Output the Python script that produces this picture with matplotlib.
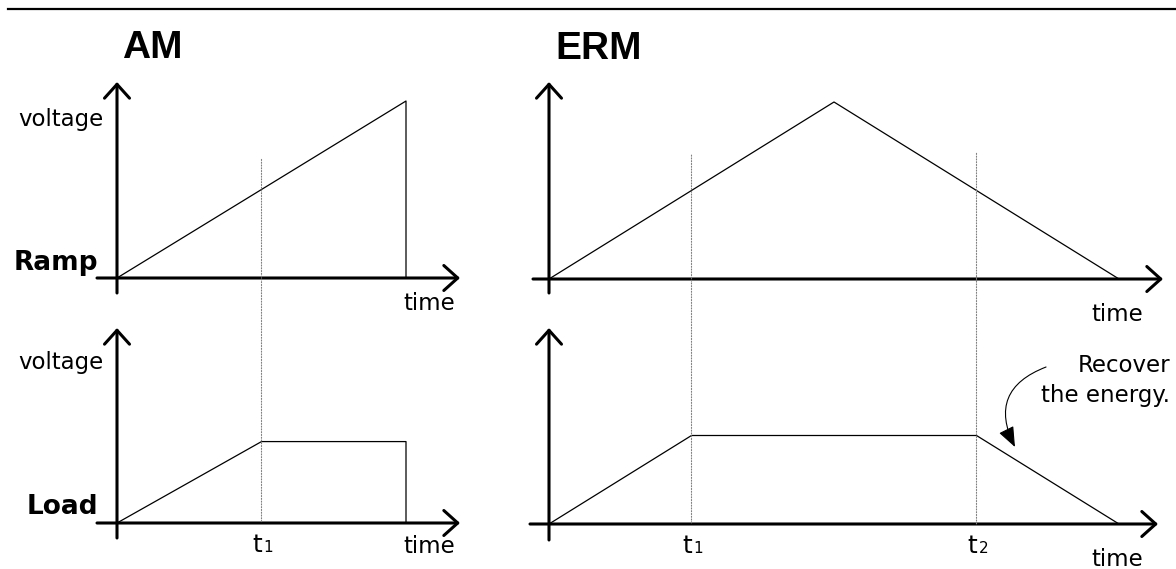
import matplotlib
matplotlib.use("Agg")
import matplotlib.pyplot as plt
from matplotlib.lines import Line2D
from matplotlib.patches import ConnectionPatch

# ---- data (time in units of the AM ramp length, voltage normalised) ----
am_ramp_t = [0, 1, 1]
am_ramp_v = [0, 1, 0]
am_load_t = [0, 0.5, 1, 1]
am_load_v = [0, 0.46, 0.46, 0]
am_marks = [0.5]            # t1

erm_ramp_t = [0, 1, 2]
erm_ramp_v = [0, 1, 0]
erm_load_t = [0, 0.5, 1.5, 2]
erm_load_v = [0, 0.5, 0.5, 0]
erm_marks = [0.5, 1.5]      # t1, t2

W, H = 1176, 569
plt.rcParams['font.family'] = ['DejaVu Sans']

fig = plt.figure(figsize=(W / 100, H / 100), dpi=100)

axis_arrow = dict(arrowstyle='->,head_length=1.0,head_width=0.9', lw=2.2,
                  color='black', mutation_scale=10, shrinkA=0, shrinkB=0)


def panel(box, origin, scale):
    """Axes placed in pixel box, data origin at pixel origin"""
    left, top, right, bottom = box
    ox, oy = origin
    sx, sy = scale
    ax = fig.add_axes([left / W, 1 - bottom / H, (right - left) / W, (bottom - top) / H])
    ax.set_xlim((left - ox) / sx, (right - ox) / sx)
    ax.set_ylim((oy - bottom) / sy, (oy - top) / sy)
    ax.set_axis_off()
    ax.patch.set_alpha(0)
    x0, x1 = ax.get_xlim()
    y0, y1 = ax.get_ylim()
    ax.annotate('', xy=(x1, 0), xytext=(x0, 0), arrowprops=axis_arrow, annotation_clip=False)
    ax.annotate('', xy=(0, y1), xytext=(0, y0), arrowprops=axis_arrow, annotation_clip=False)
    return ax


def ftext(x, y, s, **kw):
    fig.text(x / W, 1 - y / H, s, va='baseline', **kw)


def guides(top_ax, low_ax, marks, tops):
    for i, (tm, yt) in enumerate(zip(marks, tops)):
        con = ConnectionPatch(xyA=(tm, yt), coordsA=top_ax.transData,
                              xyB=(tm, 0), coordsB=low_ax.transData,
                              color='0.5', lw=0.8, linestyle=(0, (1, 1.5)))
        fig.add_artist(con)
        low_ax.annotate('t', xy=(tm, 0), xytext=(1, -29), textcoords='offset pixels',
                        ha='right', va='baseline', fontsize=18, annotation_clip=False)
        low_ax.annotate(str(i + 1), xy=(tm, 0), xytext=(2, -29), textcoords='offset pixels',
                        ha='left', va='baseline', fontsize=11, annotation_clip=False)


line_kw = dict(color='black', lw=0.9, clip_on=False, zorder=3)

# AM panels
am_top = panel((97, 82, 460, 293), (117, 278), (289, 177))
am_low = panel((97, 328, 460, 538), (117, 523), (289, 177))
am_top.plot(am_ramp_t, am_ramp_v, **line_kw)
am_low.plot(am_load_t, am_load_v, **line_kw)
guides(am_top, am_low, am_marks, [0.67])

# ERM panels
erm_top = panel((533, 82, 1163, 293), (549, 279), (285, 177))
erm_low = panel((530, 328, 1158, 540), (549, 524), (285, 177))
erm_top.plot(erm_ramp_t, erm_ramp_v, **line_kw)
erm_low.plot(erm_load_t, erm_load_v, **line_kw)
guides(erm_top, erm_low, erm_marks, [0.70, 0.71])

# curved "recover" arrow
erm_low.annotate('', xy=(1.635, 0.435), xytext=(1.744, 0.887),
                 arrowprops=dict(arrowstyle='-|>,head_length=1.25,head_width=0.5',
                                 connectionstyle='arc3,rad=0.55', lw=0.8,
                                 color='black', mutation_scale=10,
                                 shrinkA=0, shrinkB=0),
                 annotation_clip=False)

# titles and labels
ftext(122, 58, 'AM', fontsize=28, fontweight='bold', family=['Liberation Sans', 'DejaVu Sans'])
ftext(555, 59, 'ERM', fontsize=28, fontweight='bold', family=['Liberation Sans', 'DejaVu Sans'])
ftext(18, 126, 'voltage', fontsize=16.5)
ftext(18, 369, 'voltage', fontsize=16.5)
ftext(14, 270, 'Ramp', fontsize=19, fontweight='bold')
ftext(27, 514, 'Load', fontsize=19, fontweight='bold')
ftext(403, 310, 'time', fontsize=16.5)
ftext(403, 553, 'time', fontsize=16.5)
ftext(1091, 321, 'time', fontsize=16.5)
ftext(1091, 566, 'time', fontsize=16.5)
ftext(1170, 372, 'Recover', fontsize=16.5, ha='right')
ftext(1170, 402, 'the energy.', fontsize=16.5, ha='right')

# rule across the top
fig.add_artist(Line2D([8 / W, 1], [1 - 9 / H, 1 - 9 / H], color='black', lw=1.6))

fig.savefig('out.png', dpi=100)
